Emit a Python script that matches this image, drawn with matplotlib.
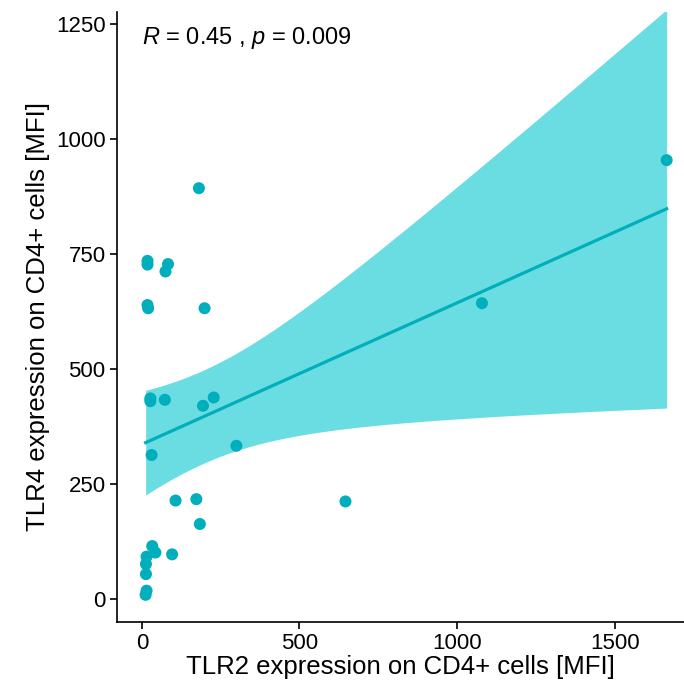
import numpy as np
import matplotlib.pyplot as plt

plt.rcParams['font.family'] = ['Liberation Sans', 'DejaVu Sans']
plt.rcParams['mathtext.fontset'] = 'custom'
plt.rcParams['mathtext.rm'] = 'Liberation Sans'
plt.rcParams['mathtext.it'] = 'Liberation Sans:italic'

# TLR2 / TLR4 MFI on CD4+ cells
tlr2 = [1665, 1079, 646, 300, 181, 199, 228, 194, 173, 184, 107, 96, 73, 83, 75,
        18, 18, 18, 20, 27, 27, 31, 33, 43, 15, 13, 13, 15, 12]
tlr4 = [954, 643, 212, 333, 893, 632, 438, 420, 217, 163, 214, 97, 433, 728, 712,
        735, 727, 639, 632, 436, 430, 313, 115, 101, 92, 76, 54, 18, 9]

x = np.array(tlr2, dtype=float)
y = np.array(tlr4, dtype=float)
n = len(x)

# linear fit with 95% confidence band
b, a = np.polyfit(x, y, 1)
xs = np.linspace(x.min(), x.max(), 200)
ys = a + b * xs
resid = y - (a + b * x)
s = np.sqrt(np.sum(resid ** 2) / (n - 2))
tq = 2.052  # t(0.975, df=27)
se = s * np.sqrt(1 / n + (xs - x.mean()) ** 2 / np.sum((x - x.mean()) ** 2))

col = '#00AFBB'
fig = plt.figure(figsize=(6.84, 6.91), dpi=100)
ax = fig.add_axes([0.1705, 0.0999, 0.8295, 0.8827])

ax.fill_between(xs, ys - tq * se, ys + tq * se, color='#6ADDE2', lw=0, zorder=1)
ax.plot(xs, ys, color=col, lw=2.3, zorder=2)
ax.scatter(x, y, s=75, color=col, edgecolors='none', zorder=3)

ax.set_xlim(-80, 1720)
ax.set_ylim(-50, 1276)
ax.set_xticks([0, 500, 1000, 1500])
ax.set_yticks([0, 250, 500, 750, 1000, 1250])
for sp in ['top', 'right']:
    ax.spines[sp].set_visible(False)
for sp in ['left', 'bottom']:
    ax.spines[sp].set_linewidth(1.2)
ax.tick_params(length=5, width=1.2, labelsize=16, colors='black', pad=3)

ax.set_xlabel('TLR2 expression on CD4+ cells [MFI]', fontsize=18.5, labelpad=1)
ax.set_ylabel('TLR4 expression on CD4+ cells [MFI]', fontsize=18.5, labelpad=4)

ax.text(0, 1220, r'$\it{R}$ = 0.45 , $\it{p}$ = 0.009', fontsize=17, va='center', ha='left')

plt.savefig('out.png', dpi=100)
